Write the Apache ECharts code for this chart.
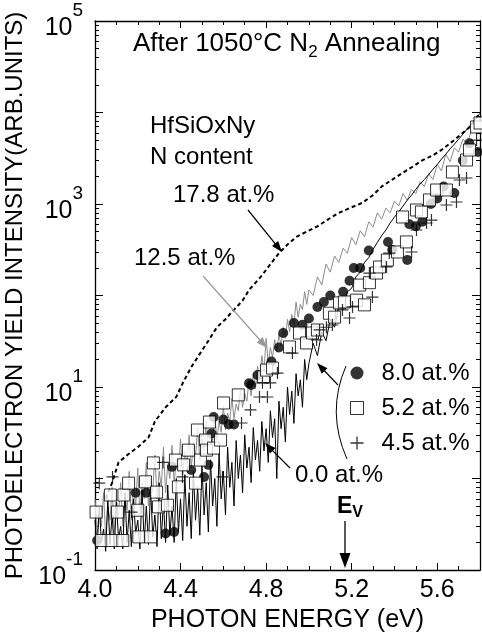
<!DOCTYPE html>
<html><head><meta charset="utf-8">
<script src="https://cdn.jsdelivr.net/npm/echarts@6/dist/echarts.min.js"></script>
<style>html,body{margin:0;padding:0;background:#fff}#c{width:482px;height:637px}</style>
</head><body><div id="c"></div>
<script>
const FONT = "'Liberation Sans', Arial, Helvetica, sans-serif";

// tick labels
const xTickLabels = ['4.0', '4.4', '4.8', '5.2', '5.6'];
const yTickExponents = [-1, 1, 3, 5];

// 17.8 at.% (black dashed curve)
const n178X = [4.05,4.08,4.11,4.15,4.20,4.25,4.28,4.33,4.38,4.41,4.45,4.49,4.53,4.57,4.61,4.64,4.69,4.72,4.78,4.82,4.86,4.90,4.94,4.99,5.04,5.09,5.14,5.19,5.25,5.30,5.34,5.39,5.44,5.49,5.53,5.58,5.62,5.67,5.72,5.76,5.80];
const n178Y = [0.6,0.9,1.5,1.8,2.2,2.8,4.2,6.0,7.8,11,16.5,23,32,45,55,66,88,115,165,220,290,360,435,500,570,680,800,900,1030,1250,1550,1850,2200,2600,3000,3400,3900,4800,6000,7200,10000];

// 12.5 at.% (grey noisy line)
const n125X = [4.00,4.01,4.02,4.03,4.04,4.05,4.06,4.07,4.08,4.09,4.10,4.11,4.12,4.13,4.14,4.15,4.16,4.17,4.18,4.19,4.20,4.21,4.22,4.23,4.24,4.25,4.26,4.27,4.28,4.29,4.30,4.31,4.32,4.33,4.34,4.35,4.36,4.37,4.38,4.39,4.40,4.41,4.42,4.43,4.44,4.45,4.46,4.47,4.48,4.49,4.50,4.51,4.52,4.53,4.54,4.55,4.56,4.57,4.58,4.59,4.60,4.61,4.62,4.63,4.64,4.65,4.66,4.67,4.68,4.69,4.70,4.71,4.72,4.73,4.74,4.75,4.76,4.77,4.78,4.79,4.80,4.81,4.82,4.83,4.84,4.85,4.86,4.87,4.88,4.89,4.90,4.91,4.92,4.93,4.94,4.95,4.96,4.97,4.98,4.99,5.00,5.02,5.04,5.06,5.08,5.10,5.12,5.14,5.16,5.18,5.20,5.22,5.24,5.26,5.28,5.30,5.32,5.34,5.36,5.38,5.40,5.42,5.44,5.46,5.48,5.50,5.52,5.54,5.56,5.58,5.60,5.62,5.64,5.66,5.68,5.70,5.72,5.74,5.76,5.78,5.80];
const n125Y = [0.6,0.25,0.45,0.3,0.7,0.22,0.5,0.35,0.8,0.25,0.6,0.4,0.9,0.3,0.65,0.45,1.2,0.35,0.8,0.5,1.3,0.4,0.9,0.6,1.5,0.5,1.0,0.7,1.8,0.6,1.2,0.8,2.2,0.7,1.4,1.0,2.3,0.9,1.6,1.2,2.7,1.1,2.0,1.4,3.0,1.3,2.4,1.7,3.6,1.6,2.8,2.0,4.2,2.0,3.4,2.5,5.0,2.6,4.2,3.2,6.2,3.4,5.2,4.2,7.5,4.5,6.5,5.5,9.5,6.0,8.5,7.0,12,8.0,14,9.5,17,12,22,15,34,18,27,21,33,24,38,28,45,34,55,40,62,48,85,58,80,70,110,80,115,100,160,130,220,180,270,230,330,290,430,360,510,440,640,560,800,680,900,800,1080,950,1300,1100,1450,1300,1750,1550,2150,1850,2700,2300,3500,2900,4100,3700,5100,4600,6300,6800,8500];

// 0.0 at.% (black noisy line)
const n00X = [4.00,4.01,4.02,4.03,4.04,4.05,4.06,4.07,4.08,4.09,4.10,4.11,4.12,4.13,4.14,4.15,4.16,4.17,4.18,4.19,4.20,4.21,4.22,4.23,4.24,4.25,4.26,4.27,4.28,4.29,4.30,4.31,4.32,4.33,4.34,4.35,4.36,4.37,4.38,4.39,4.40,4.41,4.42,4.43,4.44,4.45,4.46,4.47,4.48,4.49,4.50,4.51,4.52,4.53,4.54,4.55,4.56,4.57,4.58,4.59,4.60,4.61,4.62,4.63,4.64,4.65,4.66,4.67,4.68,4.69,4.70,4.71,4.72,4.73,4.74,4.75,4.76,4.77,4.78,4.79,4.80,4.81,4.82,4.83,4.84,4.85,4.86,4.87,4.88,4.89,4.90,4.91,4.92,4.93,4.94,4.95,4.96,4.97,4.98,4.99,5.00,5.02,5.04,5.06,5.08,5.10,5.12,5.14,5.16,5.18,5.20,5.22,5.24,5.26,5.28,5.30,5.32,5.34,5.36,5.38,5.40,5.42,5.44,5.46,5.48,5.50,5.52,5.54,5.56,5.58,5.60,5.62,5.64,5.66,5.68,5.70,5.72,5.74,5.76,5.78,5.80];
const n00Y = [0.35,0.17,0.5,0.2,0.28,0.16,0.6,0.19,0.4,0.17,0.55,0.22,0.3,0.17,0.7,0.2,0.45,0.18,0.6,0.25,0.35,0.17,0.75,0.2,0.5,0.19,0.8,0.23,0.4,0.18,0.9,0.22,0.55,0.2,0.85,0.24,0.5,0.2,1.0,0.26,0.6,0.21,1.1,0.3,0.7,0.22,1.2,0.35,0.8,0.24,1.4,0.4,0.9,0.26,1.6,0.5,1.0,0.3,1.9,0.6,1.2,0.4,2.2,0.8,1.5,0.5,2.6,1.0,1.8,0.7,3.0,1.3,2.2,0.9,3.6,1.6,2.6,1.2,4.2,2.0,3.5,1.5,5.5,2.8,4.5,1.0,7,3.5,6,2.5,10,5,9,4,14,8,12,6,20,12,18,30,22,40,32,55,45,75,70,110,120,160,180,230,260,320,380,450,520,620,720,820,950,1100,1250,1450,1650,1850,2100,2400,2700,3100,3500,4000,4500,5100,5800,6600,7500,8600,9800];

// 8.0 at.% (filled circles)
const n80X = [4.01,4.19,4.24,4.33,4.36,4.37,4.45,4.51,4.53,4.545,4.555,4.60,4.625,4.65,4.72,4.73,4.76,4.825,4.86,4.88,4.93,4.97,5.00,5.04,5.07,5.10,5.16,5.19,5.21,5.24,5.28,5.37,5.39,5.46,5.47,5.50,5.53,5.57,5.60,5.63,5.68,5.72,5.75,5.79];
const n80Y = [0.21,0.70,0.70,0.25,1.34,0.26,1.24,1.04,1.41,3.1,4.7,4.4,3.9,3.9,11,10.5,13.5,19,27,39,50,48,56,75,85,100,110,145,200,200,310,385,315,245,600,570,640,1000,1150,1550,1320,3000,4600,3700];

// 5.2 at.% (open squares)
const n52X = [4.005,4.03,4.072,4.08,4.105,4.13,4.135,4.157,4.20,4.205,4.236,4.26,4.273,4.288,4.297,4.339,4.376,4.39,4.414,4.437,4.47,4.479,4.493,4.517,4.521,4.535,4.554,4.587,4.601,4.67,4.788,4.802,4.83,4.909,4.956,4.989,5.017,5.04,5.096,5.12,5.143,5.166,5.223,5.237,5.26,5.283,5.316,5.33,5.367,5.414,5.438,5.456,5.503,5.526,5.564,5.597,5.643,5.671,5.737,5.751,5.784,5.80];
const n52Y = [0.43,0.21,0.66,0.21,0.43,0.21,0.66,0.89,0.45,0.23,0.92,0.23,1.48,0.71,0.49,0.51,1.59,0.81,1.41,2.04,0.89,3.39,1.59,2.63,2.04,4.14,2.15,2.63,6.69,8.2,12.9,15.3,16.1,27.4,38.9,30.3,38.9,42,64,58,83,85,89,130,79,138,176,205,244,299,721,385,860,818,1107,1422,1422,2237,3027,3890,6950,7680];

// 4.5 at.% (plus)
const n45X = [4.02,4.082,4.171,4.318,4.409,4.596,4.685,4.727,4.769,4.783,4.806,4.82,4.853,4.923,5.036,5.05,5.082,5.11,5.157,5.19,5.204,5.283,5.297,5.363,5.376,5.48,5.503,5.55,5.573,5.643,5.69,5.704,5.737,5.784];
const n45Y = [0.89,1.04,0.43,1.5,1.04,1.04,4.04,5.61,7.78,11.1,7.78,11.1,14.2,23.5,32.7,42,45,47.6,69.5,56.8,75,176,96,205,291,299,520,620,668,975,1052,1830,1923,5000];

const zip = (xs, ys) => xs.map((x, i) => [x, ys[i]]);
const PLUS = 'path://M0,5.4H12V6.6H0ZM5.4,0H6.6V12H5.4Z';

// minor tick positions on log scale (in log10 units)
const minorLog = [];
for (let e = -1; e < 5; e++) for (let k = 2; k <= 9; k++) minorLog.push(e + Math.log10(k));

const chart = echarts.init(document.getElementById('c'), null, {renderer: 'canvas'});

function arrow(x1, y1, x2, y2, color, hl, hw, lw) {
  const dx = x2 - x1, dy = y2 - y1, L = Math.hypot(dx, dy), ux = dx / L, uy = dy / L;
  const bx = x2 - ux * hl, by = y2 - uy * hl, px = -uy * hw / 2, py = ux * hw / 2;
  return [
    {type: 'line', silent: true, z: 100, shape: {x1, y1, x2: bx + ux * 2, y2: by + uy * 2}, style: {stroke: color, lineWidth: lw || 1.2}},
    {type: 'polygon', silent: true, z: 100, shape: {points: [[x2, y2], [bx + px, by + py], [bx - px, by - py]]}, style: {fill: color}}
  ];
}

const axisBlack = {color: '#000', width: 1.3};
const xLabelFmt = v => { const s = v.toFixed(1); return (xTickLabels.includes(s) && v < 5.75) ? s : ''; };
const yLabelFmt = v => {
  const e = Math.round(Math.log10(v));
  return yTickExponents.includes(e) ? '{b|10}{s|' + e + '}' : '';
};
const txt = (text, left, top, size) => ({text, left, top, padding: 0,
  textStyle: {fontSize: size || 24, lineHeight: size || 24, fontWeight: 'normal', color: '#000', fontFamily: FONT}});

const option = {
  animation: false,
  backgroundColor: '#fff',
  grid: {left: 95, right: 2, top: 21, bottom: 67, containLabel: false, outerBoundsMode: 'none'},
  title: [
    {text: '{a|After 1050°C N}{s|2}{a| Annealing}', left: 133, top: 27, padding: 0,
     textStyle: {fontWeight: 'normal', color: '#000', fontFamily: FONT,
       rich: {a: {fontSize: 26, lineHeight: 34, fontFamily: FONT, color: '#000'},
              s: {fontSize: 17, lineHeight: 17, verticalAlign: 'bottom', fontFamily: FONT, color: '#000'}}}},
    txt('HfSiOxNy', 150, 114),
    txt('N content', 150, 145),
    txt('17.8 at.%', 173, 183),
    txt('12.5 at.%', 134, 246),
    txt('0.0 at.%', 295, 463),
    {text: '{e|E}{v|V}', left: 337, top: 493, padding: 0,
     textStyle: {fontWeight: 'bold', color: '#000', fontFamily: FONT,
       rich: {e: {fontSize: 23, lineHeight: 28, fontWeight: 'bold', fontFamily: FONT, color: '#000'},
              v: {fontSize: 16, lineHeight: 16, verticalAlign: 'bottom', fontWeight: 'bold', fontFamily: FONT, color: '#000'}}}}
  ],
  legend: {
    orient: 'vertical', left: 350, top: 361, itemWidth: 13, itemHeight: 13, itemGap: 11,
    selectedMode: false, padding: 0,
    formatter: name => '{g| }{t|' + name + '}',
    textStyle: {fontSize: 24, lineHeight: 24, color: '#000', fontFamily: FONT,
      rich: {g: {width: 13, fontSize: 24, lineHeight: 24},
             t: {fontSize: 24, lineHeight: 24, color: '#000', fontFamily: FONT}}},
    data: [
      {name: '8.0 at.%', icon: 'circle'},
      {name: '5.2 at.%', icon: 'rect', itemStyle: {color: '#fff', borderColor: '#000', borderWidth: 1}},
      {name: '4.5 at.%', icon: PLUS}
    ]
  },
  xAxis: [
    {type: 'value', min: 4, max: 5.8, interval: 0.1, position: 'bottom',
     axisLine: {onZero: false, lineStyle: axisBlack},
     axisTick: {inside: true, length: 4, lineStyle: {color: '#000'}},
     axisLabel: {formatter: xLabelFmt, fontSize: 25, color: '#000', fontFamily: FONT, margin: 8, showMaxLabel: false},
     splitLine: {show: false},
     name: 'PHOTON ENERGY (eV)', nameLocation: 'middle', nameGap: 37,
     nameTextStyle: {fontSize: 25, color: '#000', fontFamily: FONT}},
    {type: 'value', min: 4, max: 5.8, interval: 0.4, position: 'bottom',
     axisLine: {show: false, onZero: false}, axisTick: {inside: true, length: 7, lineStyle: {color: '#000'}},
     axisLabel: {show: false}, splitLine: {show: false}},
    {type: 'value', min: 4, max: 5.8, interval: 0.1, position: 'top',
     axisLine: {onZero: false, lineStyle: axisBlack}, axisTick: {inside: true, length: 4, lineStyle: {color: '#000'}},
     axisLabel: {show: false}, splitLine: {show: false}},
    {type: 'value', min: 4, max: 5.8, interval: 0.4, position: 'top',
     axisLine: {show: false, onZero: false}, axisTick: {inside: true, length: 7, lineStyle: {color: '#000'}},
     axisLabel: {show: false}, splitLine: {show: false}}
  ],
  yAxis: [
    {type: 'log', logBase: 10, min: 0.1, max: 100000, position: 'left',
     axisLine: {show: true, onZero: false, lineStyle: axisBlack},
     axisTick: {show: true, inside: true, length: 8, lineStyle: {color: '#000'}},
     axisLabel: {formatter: yLabelFmt, margin: 12, color: '#000', fontFamily: FONT,
       rich: {b: {fontSize: 25, lineHeight: 40, verticalAlign: 'bottom', fontFamily: FONT, color: '#000'},
              s: {fontSize: 19, lineHeight: 18, verticalAlign: 'top', fontFamily: FONT, color: '#000'}}},
     splitLine: {show: false},
     name: 'PHOTOELECTRON YIELD INTENSITY(ARB.UNITS)', nameLocation: 'middle', nameGap: 60,
     nameTextStyle: {fontSize: 24, color: '#000', fontFamily: FONT}},
    {type: 'value', min: -1, max: 5, position: 'left',
     axisLine: {show: false, onZero: false}, axisTick: {show: true, inside: true, length: 4, customValues: minorLog, lineStyle: {color: '#000'}},
     axisLabel: {show: false}, splitLine: {show: false}},
    {type: 'log', logBase: 10, min: 0.1, max: 100000, position: 'right',
     axisLine: {show: true, onZero: false, lineStyle: axisBlack},
     axisTick: {show: true, inside: true, length: 8, lineStyle: {color: '#000'}},
     axisLabel: {show: false}, splitLine: {show: false}},
    {type: 'value', min: -1, max: 5, position: 'right',
     axisLine: {show: false, onZero: false}, axisTick: {show: true, inside: true, length: 4, customValues: minorLog, lineStyle: {color: '#000'}},
     axisLabel: {show: false}, splitLine: {show: false}}
  ],
  series: [
    {name: '12.5 at.%', type: 'line', data: zip(n125X, n125Y), showSymbol: false, symbol: 'none',
     lineStyle: {color: '#8c8c8c', width: 1}, z: 2, clip: true},
    {name: '0.0 at.%', type: 'line', data: zip(n00X, n00Y), showSymbol: false, symbol: 'none',
     lineStyle: {color: '#000', width: 1}, z: 2, clip: true},
    {name: '17.8 at.%', type: 'line', data: zip(n178X, n178Y), showSymbol: false, symbol: 'none',
     lineStyle: {color: '#000', width: 2, type: [4, 3]}, z: 2, clip: true},
    {name: '8.0 at.%', type: 'scatter', data: zip(n80X, n80Y), symbol: 'circle', symbolSize: 10,
     itemStyle: {color: '#000'}, z: 3},
    {name: '5.2 at.%', type: 'scatter', data: zip(n52X, n52Y), symbol: 'rect', symbolSize: 12,
     itemStyle: {color: '#fff', borderColor: '#000', borderWidth: 1}, z: 4},
    {name: '4.5 at.%', type: 'scatter', data: zip(n45X, n45Y), symbol: PLUS, symbolSize: 12,
     itemStyle: {color: '#000'}, z: 5}
  ],
  graphic: [].concat(
    arrow(248, 210, 282, 252, '#000', 11, 8),
    arrow(203, 276, 267, 348, '#999', 11, 8),
    arrow(290, 468, 265, 443, '#000', 11, 8),
    arrow(338, 385, 317, 363, '#000', 11, 8),
    arrow(345, 521, 345, 568, '#000', 15, 11, 1.3),
    [{type: 'bezierCurve', silent: true, z: 100,
      shape: {x1: 346, y1: 366, cpx1: 326, cpy1: 412, x2: 347, y2: 459},
      style: {stroke: '#000', lineWidth: 1, fill: null}}]
  )
};
chart.setOption(option);
</script></body></html>
